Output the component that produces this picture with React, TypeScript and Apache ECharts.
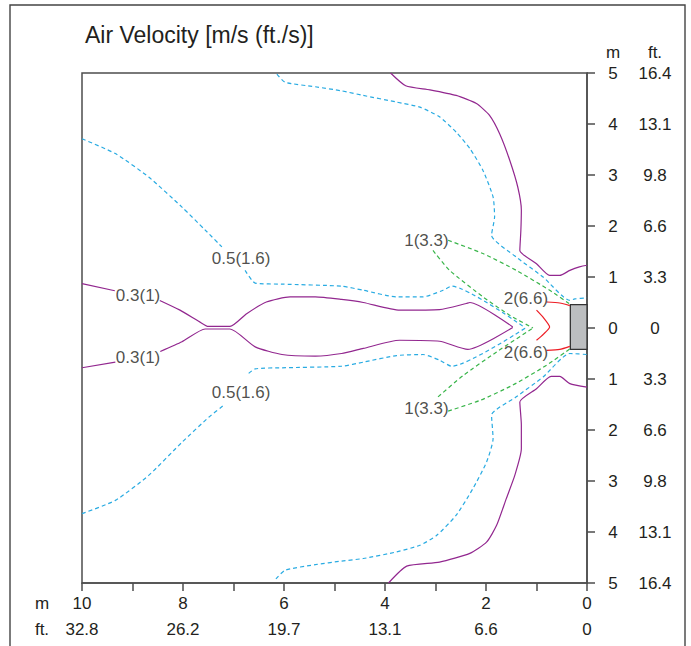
import React, { useEffect, useRef } from "react";
import * as echarts from "echarts";

// ---- Axis ticks ----
const xTickM = [0, 2, 4, 6, 8, 10];
const xTickFt = ["0", "6.6", "13.1", "19.7", "26.2", "32.8"];
const yTickFt = ["0", "3.3", "6.6", "9.8", "13.1", "16.4"];

// ---- Contour curves, [distance m, lateral m] ----
// 0.3 m/s (purple, solid)
const purpleOuterUpper = [[3.89, 5.0], [3.59, 4.75], [3.11, 4.67], [2.59, 4.56], [2.19, 4.4], [1.93, 4.17], [1.73, 3.81], [1.53, 3.29], [1.37, 2.76], [1.3, 2.31], [1.31, 1.9], [1.33, 1.52], [1.0, 1.26], [0.74, 1.03], [0.54, 1.03], [0.34, 1.13], [0.15, 1.2], [0.0, 1.23]];
const purpleOuterLower = [[3.93, -5.0], [3.57, -4.67], [2.92, -4.59], [2.32, -4.42], [1.99, -4.2], [1.79, -3.87], [1.6, -3.35], [1.43, -2.89], [1.3, -2.37], [1.3, -1.9], [1.33, -1.45], [1.0, -1.19], [0.71, -0.95], [0.54, -0.95], [0.34, -1.09], [0.0, -1.16]];
const purpleInnerUpperA = [[10, 0.87], [9.35, 0.73]];
const purpleInnerUpperB = [[8.46, 0.54], [8.06, 0.35], [7.67, 0.12], [7.5, 0.03], [7.07, 0.03], [6.74, 0.28], [6.35, 0.51], [5.88, 0.61], [5.38, 0.61], [4.86, 0.56], [4.43, 0.5], [3.71, 0.35], [2.92, 0.36], [2.39, 0.48], [2.32, 0.5], [1.47, 0.02]];
const purpleInnerLowerA = [[10, -0.78], [9.34, -0.67]];
const purpleInnerLowerB = [[8.45, -0.46], [8.02, -0.27], [7.56, -0.02], [7.07, -0.02], [6.57, -0.37], [6.04, -0.52], [5.38, -0.55], [4.86, -0.5], [4.43, -0.4], [3.71, -0.24], [2.92, -0.26], [2.36, -0.42], [1.47, 0.01]];

// 0.5 m/s (blue, dashed)
const blueOuterUpper = [[6.14, 4.98], [5.98, 4.82], [5.38, 4.73], [4.86, 4.65], [4.43, 4.56], [3.77, 4.43], [3.31, 4.33], [2.92, 4.14], [2.59, 3.84], [2.32, 3.52], [2.06, 3.09], [1.86, 2.57], [1.83, 2.18], [1.89, 1.82], [1.4, 1.39], [0.87, 1.0], [0.34, 0.54], [0.24, 0.57], [0.0, 0.59]];
const blueOuterLower = [[6.16, -4.92], [5.98, -4.75], [5.38, -4.64], [4.86, -4.57], [4.43, -4.52], [3.77, -4.39], [3.31, -4.26], [2.98, -4.07], [2.59, -3.67], [2.26, -3.15], [1.99, -2.63], [1.86, -2.17], [1.89, -1.71], [1.4, -1.35], [0.87, -0.96], [0.34, -0.5], [0.0, -0.52]];
const blueInnerUpperA = [[10, 3.71], [9.34, 3.42], [8.68, 2.96], [8.02, 2.37], [7.56, 1.92], [7.23, 1.59]];
const blueInnerUpperB = [[6.77, 1.13], [6.57, 0.88], [6.04, 0.86], [4.86, 0.82], [4.43, 0.74], [3.77, 0.61], [3.25, 0.61], [2.85, 0.74], [2.68, 0.82], [1.22, 0.0]];
const blueInnerLowerA = [[10, -3.64], [9.34, -3.38], [8.68, -2.89], [8.02, -2.24], [7.49, -1.75], [7.2, -1.52]];
const blueInnerLowerB = [[6.7, -0.89], [6.57, -0.8], [6.04, -0.78], [4.86, -0.75], [4.43, -0.67], [3.77, -0.54], [3.25, -0.52], [2.92, -0.63], [2.68, -0.75], [1.22, 0.0]];

// 1 m/s (green, dashed)
const greenOuterUpper = [[2.75, 1.72], [2.06, 1.46], [1.4, 1.13], [0.74, 0.74], [0.34, 0.47]];
const greenInnerUpper = [[3.05, 1.52], [2.72, 1.13], [2.06, 0.61], [1.53, 0.25], [1.07, 0.0]];
const greenOuterLower = [[2.75, -1.63], [2.12, -1.42], [1.47, -1.12], [0.8, -0.73], [0.34, -0.41]];
const greenInnerLower = [[2.95, -1.35], [2.45, -0.93], [1.79, -0.47], [1.07, 0.0]];

// 2 m/s (red, solid)
const redOuterUpper = [[0.8, 0.51], [0.54, 0.49], [0.34, 0.44]];
const redInner = [[1.0, 0.35], [0.86, 0.2], [0.74, 0.02], [0.86, -0.12], [1.0, -0.24]];
const redOuterLower = [[0.8, -0.44], [0.54, -0.42], [0.34, -0.36]];

// Outlet box
const boxX = [0, 0.33];
const boxY = [0.46, -0.42];

// Contour labels
const labelTexts = ["0.3(1)", "0.3(1)", "0.5(1.6)", "0.5(1.6)", "1(3.3)", "1(3.3)", "2(6.6)", "2(6.6)"];
const labelX = [8.89, 8.89, 6.85, 6.85, 3.18, 3.18, 1.21, 1.21];
const labelY = [0.64, -0.57, 1.36, -1.26, 1.71, -1.58, 0.57, -0.49];

const PURPLE = "#92278f";
const BLUE = "#29abe2";
const GREEN = "#39b54a";
const RED = "#ed1c24";
const AXIS = "#4d4d4d";
const TEXT = "#231f20";
const FONT = "'Liberation Sans', Arial, Helvetica, sans-serif";
const FS = 17;

function line(data: number[][], color: string, dashed: boolean, extra: any = {}) {
  return {
    type: "line",
    data,
    symbol: "none",
    smooth: 0.2,
    silent: true,
    z: 3,
    lineStyle: { color, width: 1.2, type: dashed ? [4, 3] : "solid" },
    ...extra,
  };
}

export default function App() {
  const ref = useRef<HTMLDivElement>(null);
  useEffect(() => {
    if (!ref.current) return;
    const chart = echarts.init(ref.current, undefined, { renderer: "svg" });
    const xBase = {
      type: "value",
      min: 0,
      max: 10,
      interval: 1,
      inverse: true,
      position: "bottom",
      splitLine: { show: false },
    };
    const yBase = {
      type: "value",
      min: -5,
      max: 5,
      interval: 1,
      position: "right",
      splitLine: { show: false },
    };
    const lbl = { fontSize: FS, fontFamily: FONT, color: TEXT };
    chart.setOption({
      animation: false,
      title: {
        text: "Air Velocity [m/s (ft./s)]",
        left: 85,
        top: 23,
        padding: 0,
        textStyle: { fontSize: 23, fontWeight: "normal", fontFamily: FONT, color: TEXT },
      },
      grid: {
        left: 82,
        top: 73,
        width: 505,
        height: 510,
        show: true,
        borderColor: AXIS,
        borderWidth: 1.5,
        containLabel: false,
      },
      xAxis: [
        {
          ...xBase,
          axisLine: { show: true, onZero: false, lineStyle: { color: AXIS, width: 1.5 } },
          axisTick: { show: true, inside: false, length: 8, lineStyle: { color: AXIS, width: 1.5 } },
          axisLabel: {
            ...lbl,
            margin: 12,
            formatter: (v: number) => (xTickM.includes(v) ? String(v) : ""),
          },
        },
        {
          ...xBase,
          axisLine: { show: false, onZero: false },
          axisTick: { show: false },
          axisLabel: {
            ...lbl,
            margin: 38,
            formatter: (v: number) => {
              const i = xTickM.indexOf(v);
              return i >= 0 ? xTickFt[i] : "";
            },
          },
        },
      ],
      yAxis: [
        {
          ...yBase,
          axisLine: { show: true, onZero: false, lineStyle: { color: AXIS, width: 1.5 } },
          axisTick: { show: true, inside: false, length: 8, lineStyle: { color: AXIS, width: 1.5 } },
          axisLabel: {
            ...lbl,
            margin: 26,
            align: "center",
            formatter: (v: number) => String(Math.abs(v)),
          },
        },
        {
          ...yBase,
          axisLine: { show: false, onZero: false },
          axisTick: { show: false },
          axisLabel: {
            ...lbl,
            margin: 68,
            align: "center",
            formatter: (v: number) => yTickFt[Math.abs(v)] ?? "",
          },
        },
      ],
      graphic: [
        {
          type: "rect",
          shape: { x: 10, y: 5, width: 675, height: 700 },
          style: { fill: "none", stroke: "#444", lineWidth: 1.4 },
          silent: true,
        },
        { type: "text", x: 613, y: 52, style: { text: "m", font: `${FS}px ${FONT}`, fill: TEXT, textAlign: "center", textVerticalAlign: "middle" } },
        { type: "text", x: 655, y: 52, style: { text: "ft.", font: `${FS}px ${FONT}`, fill: TEXT, textAlign: "center", textVerticalAlign: "middle" } },
        { type: "text", x: 42, y: 603, style: { text: "m", font: `${FS}px ${FONT}`, fill: TEXT, textAlign: "center", textVerticalAlign: "middle" } },
        { type: "text", x: 42, y: 629, style: { text: "ft.", font: `${FS}px ${FONT}`, fill: TEXT, textAlign: "center", textVerticalAlign: "middle" } },
      ],
      series: [
        line(purpleOuterUpper, PURPLE, false),
        line(purpleOuterLower, PURPLE, false),
        line(purpleInnerUpperA, PURPLE, false),
        line(purpleInnerUpperB, PURPLE, false),
        line(purpleInnerLowerA, PURPLE, false),
        line(purpleInnerLowerB, PURPLE, false),
        line(blueOuterUpper, BLUE, true),
        line(blueOuterLower, BLUE, true),
        line(blueInnerUpperA, BLUE, true),
        line(blueInnerUpperB, BLUE, true),
        line(blueInnerLowerA, BLUE, true),
        line(blueInnerLowerB, BLUE, true),
        line(greenOuterUpper, GREEN, true),
        line(greenInnerUpper, GREEN, true),
        line(greenOuterLower, GREEN, true),
        line(greenInnerLower, GREEN, true),
        line(redOuterUpper, RED, false),
        line(redInner, RED, false),
        line(redOuterLower, RED, false, {
          markArea: {
            silent: true,
            itemStyle: { color: "#bcbec0", borderColor: "#333", borderWidth: 1.3 },
            data: [[{ coord: [boxX[0], boxY[0]] }, { coord: [boxX[1], boxY[1]] }]],
          },
        }),
        {
          type: "scatter",
          silent: true,
          z: 5,
          symbolSize: 1,
          itemStyle: { color: "rgba(0,0,0,0)" },
          data: labelTexts.map((t, i) => ({ value: [labelX[i], labelY[i]], name: t })),
          label: {
            show: true,
            position: "inside",
            formatter: (p: any) => p.name,
            fontSize: FS,
            fontFamily: FONT,
            color: TEXT,
          },
        },
      ],
    });
    return () => chart.dispose();
  }, []);
  return <div ref={ref} style={{ position: "absolute", left: 0, top: 0, width: 691, height: 646 }} />;
}
